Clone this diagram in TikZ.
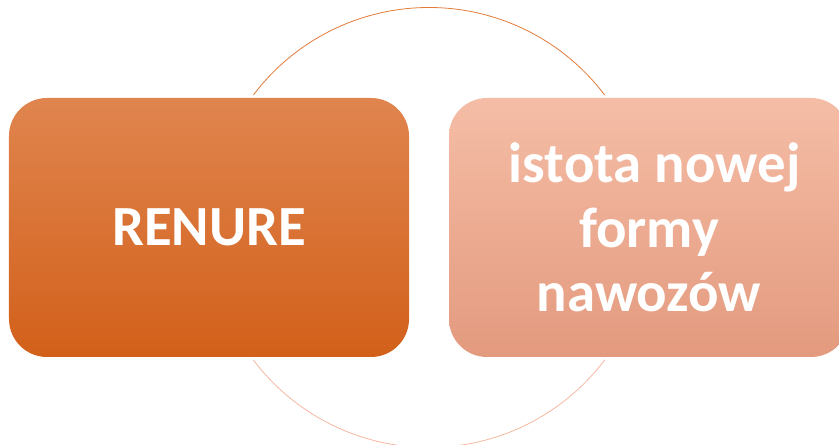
\documentclass[tikz,border=0pt]{standalone}
\usepackage{fontspec}
\setmainfont{Carlito}
\definecolor{darkTop}{HTML}{E0854F}
\definecolor{darkBot}{HTML}{D2601A}
\definecolor{lightTop}{HTML}{F5BDA6}
\definecolor{lightBot}{HTML}{E39A7E}
\definecolor{arcTop}{HTML}{E07B39}
\definecolor{arcBot}{HTML}{F4B8A0}

\begin{document}
\begin{tikzpicture}[x=1bp,y=1bp,
  card/.style={rounded corners=38bp,minimum width=400bp,minimum height=259bp,
    text=white,align=center,inner sep=0pt,
    font=\fontsize{57}{65}\selectfont\bfseries}]
\clip (0,0) rectangle (839,445);
\useasboundingbox (0,0) rectangle (839,445);
% cycle
\draw[arcTop,line width=0.8pt] (429,217.5) ++(37:220) arc (37:143:220);
\draw[arcBot,line width=0.8pt] (429,217.5) ++(217:220) arc (217:323:220);
% boxes
\node[card,top color=darkTop,bottom color=darkBot] (renure) at (209,217.5) {RENURE};
\node[card,top color=lightTop,bottom color=lightBot] (istota) at (649,217.5)
  {\hspace*{0.2em}istota nowej\\formy\\nawozów};
\end{tikzpicture}
\end{document}
